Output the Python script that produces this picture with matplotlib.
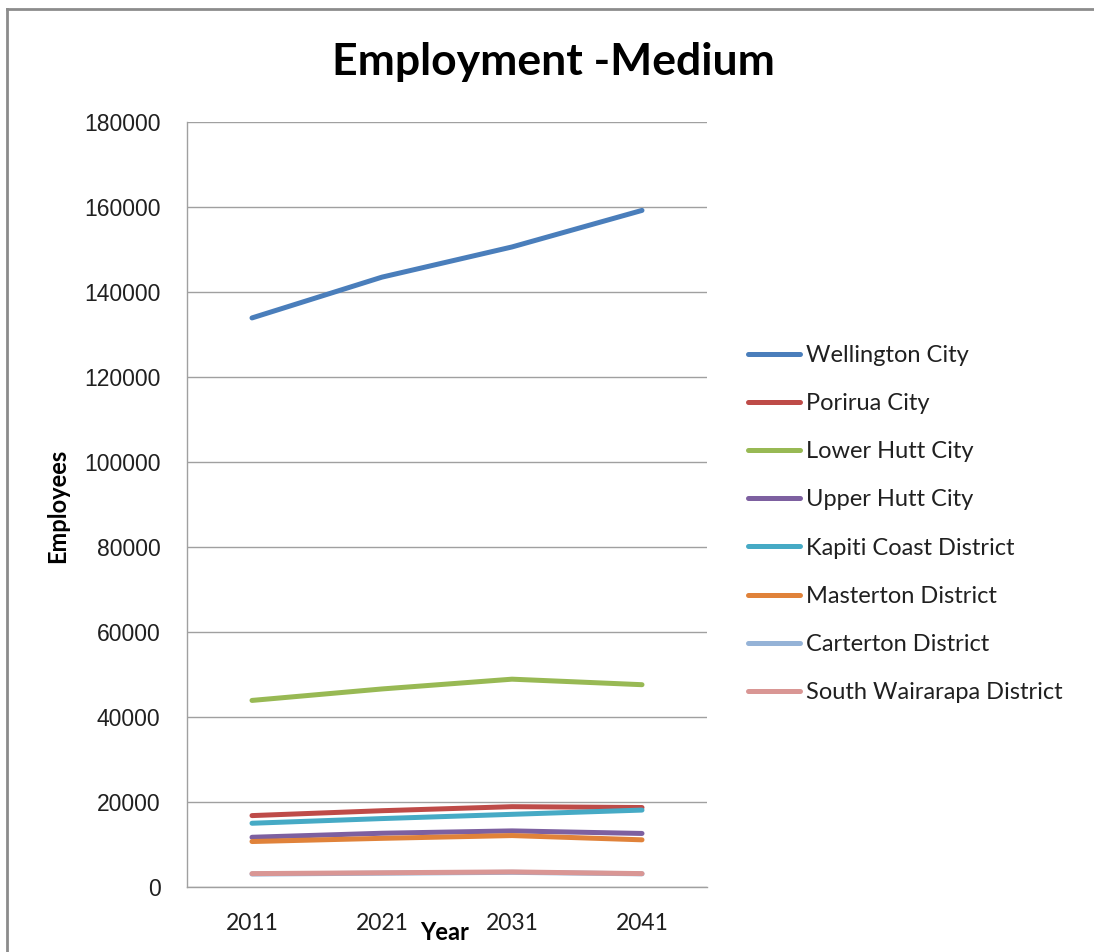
import matplotlib
matplotlib.use("Agg")
import matplotlib.pyplot as plt
from matplotlib.lines import Line2D

years = ["2011", "2021", "2031", "2041"]
wellington = [133900, 143500, 150600, 159200]
porirua = [16800, 17950, 18900, 18700]
lower_hutt = [43900, 46600, 48900, 47600]
upper_hutt = [11700, 12650, 13200, 12600]
kapiti = [15000, 16100, 17100, 18100]
masterton = [10700, 11450, 12100, 11100]
carterton = [3050, 3250, 3450, 3100]
south_wairarapa = [3150, 3350, 3550, 3150]

series = [
    ("Wellington City", wellington, "#4A7EBB"),
    ("Porirua City", porirua, "#BE4B48"),
    ("Lower Hutt City", lower_hutt, "#98B954"),
    ("Upper Hutt City", upper_hutt, "#7D60A0"),
    ("Kapiti Coast District", kapiti, "#46AAC5"),
    ("Masterton District", masterton, "#E0823A"),
    ("Carterton District", carterton, "#95B3D7"),
    ("South Wairarapa District", south_wairarapa, "#D99694"),
]

fig = plt.figure(figsize=(10.94, 9.52), dpi=100)
ax = fig.add_axes([187 / 1094, 1 - 887 / 952, 520 / 1094, 765 / 952])

x = list(range(len(years)))
handles = []
for name, vals, col in series:
    h, = ax.plot(x, vals, color=col, lw=3.6, solid_capstyle="round",
                 solid_joinstyle="round", label=name)
    handles.append(h)

ax.set_xlim(-0.5, 3.5)
ax.set_ylim(0, 180000)
ax.set_yticks(range(0, 180001, 20000))
ax.set_xticks(x)
ax.set_xticklabels(years)
ax.grid(axis="y", color="#A0A0A0", lw=1.0)
ax.set_axisbelow(True)
for s in ("top", "right"):
    ax.spines[s].set_visible(False)
for s in ("left", "bottom"):
    ax.spines[s].set_color("#A0A0A0")
    ax.spines[s].set_linewidth(1.0)
ax.tick_params(axis="y", length=0, labelsize=16.5, pad=19)
ax.tick_params(axis="x", length=0, labelsize=16.5, pad=19)
for lab in ax.get_yticklabels():
    lab.set_fontfamily("Liberation Sans")
    lab.set_color("#202020")
for lab in ax.get_xticklabels():
    lab.set_fontfamily("Lato")
    lab.set_color("#202020")

fig.text(553 / 1094, 1 - 62 / 952, "Employment -Medium", ha="center",
         va="center", fontsize=32, fontweight="bold", family="Lato")
fig.text(58 / 1094, 1 - 506 / 952, "Employees", rotation=90, ha="center",
         va="center", fontsize=17, fontweight="bold", family="Lato")
fig.text(445 / 1094, 1 - 933 / 952, "Year", ha="center", va="center",
         fontsize=17, fontweight="bold", family="Lato")

leg = fig.legend(handles=handles, loc="upper left",
                 bbox_to_anchor=(748 / 1094, 1 - 345 / 952), frameon=False,
                 prop={"family": "Lato", "size": 17}, handlelength=2.2,
                 handletextpad=0.25, labelspacing=1.15, borderaxespad=0,
                 borderpad=0)
for t in leg.get_texts():
    t.set_color("#202020")

# outer chart frame
fig.add_artist(Line2D([7 / 1094, 7 / 1094], [0, 1 - 9 / 952],
                      transform=fig.transFigure, color="#8C8C8C", lw=2))
fig.add_artist(Line2D([7 / 1094, 1], [1 - 9 / 952, 1 - 9 / 952],
                      transform=fig.transFigure, color="#8C8C8C", lw=2))

fig.savefig("out.png", dpi=100, facecolor="white")
